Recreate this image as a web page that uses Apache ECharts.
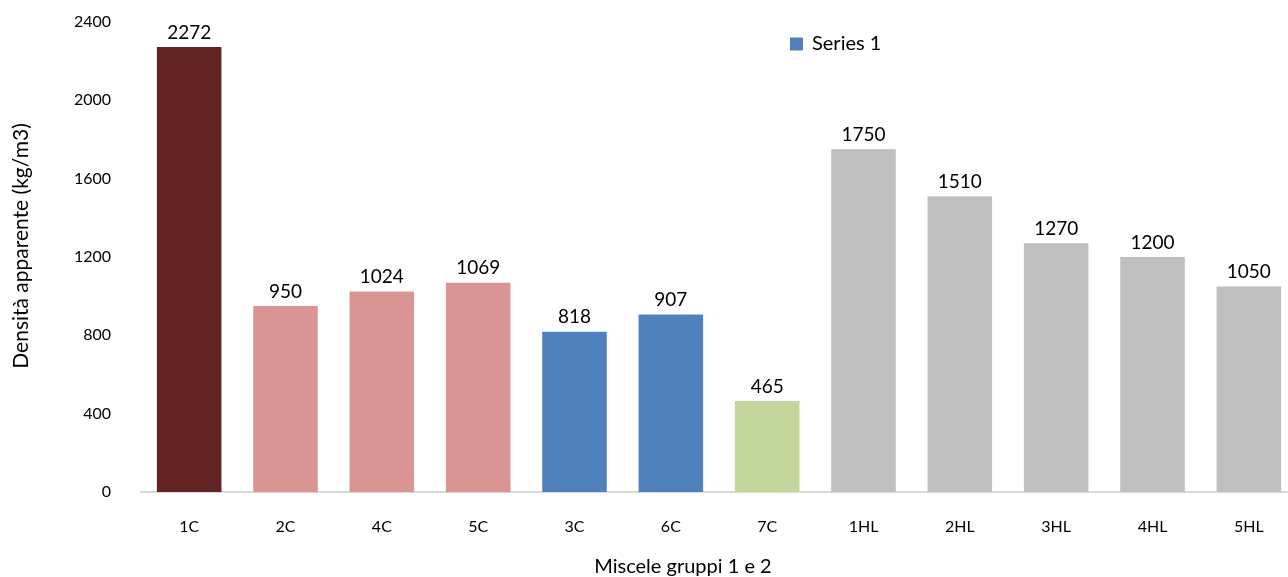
<!DOCTYPE html>
<html>
<head>
<meta charset="utf-8">
<script src="https://cdn.jsdelivr.net/npm/echarts@6/dist/echarts.min.js"></script>
<style>
  html, body { margin: 0; padding: 0; background: #fff; }
  #chart { width: 1288px; height: 577px; }
</style>
</head>
<body>
<div id="chart"></div>
<script>
// Mix identifiers (groups 1 and 2)
const categories = ['1C', '2C', '4C', '5C', '3C', '6C', '7C', '1HL', '2HL', '3HL', '4HL', '5HL'];
// Apparent density, kg/m3
const densities = [2272, 950, 1024, 1069, 818, 907, 465, 1750, 1510, 1270, 1200, 1050];
// Bar fill per mix family
const barColors = ['#622423', '#D99594', '#D99594', '#D99594', '#4F81BD', '#4F81BD', '#C3D69B',
                   '#BFBFBF', '#BFBFBF', '#BFBFBF', '#BFBFBF', '#BFBFBF'];
const yTicks = { min: 0, max: 2400, interval: 400 };

const font = 'Lato, "Open Sans", sans-serif';
const chart = echarts.init(document.getElementById('chart'), null, { renderer: 'canvas' });

chart.setOption({
  animation: false,
  textStyle: { fontFamily: font },
  legend: {
    left: 790, top: 34,
    padding: 0,
    itemWidth: 13, itemHeight: 13, itemGap: 9,
    icon: 'rect',
    textStyle: { fontSize: 20, color: '#000', fontFamily: font, padding: [0, 0, 0, 4] },
    data: [{ name: 'Series 1', itemStyle: { color: '#4F81BD' } }]
  },
  grid: { left: 141, top: 22, width: 1156, height: 470, containLabel: false, outerBoundsMode: 'none' },
  xAxis: {
    type: 'category',
    data: categories,
    name: 'Miscele gruppi 1 e 2',
    nameLocation: 'middle',
    nameGap: 65,
    nameTextStyle: { fontSize: 20, color: '#000', fontFamily: font, padding: [0, 72, 0, 0] },
    axisLine: { lineStyle: { color: '#D9D9D9', width: 2 } },
    axisTick: { show: false },
    axisLabel: { fontSize: 16, color: '#000', margin: 27, fontFamily: font }
  },
  yAxis: {
    type: 'value',
    min: yTicks.min, max: yTicks.max, interval: yTicks.interval,
    name: 'Densità apparente (kg/m3)',
    nameLocation: 'middle',
    nameRotate: 90,
    nameGap: 109,
    nameTextStyle: { fontSize: 21, color: '#000', fontFamily: font, padding: [0, 0, 0, 22] },
    axisLine: { show: false },
    axisTick: { show: false },
    splitLine: { show: false },
    axisLabel: { fontSize: 16, color: '#000', margin: 30, fontFamily: font, formatter: v => String(v) }
  },
  series: [{
    name: 'Series 1',
    type: 'bar',
    barWidth: '67%',
    data: densities.map((v, i) => ({ value: v, itemStyle: { color: barColors[i] } })),
    label: {
      show: true,
      position: 'top',
      distance: 5,
      fontSize: 19,
      color: '#000',
      fontFamily: font
    }
  }]
});
</script>
</body>
</html>
